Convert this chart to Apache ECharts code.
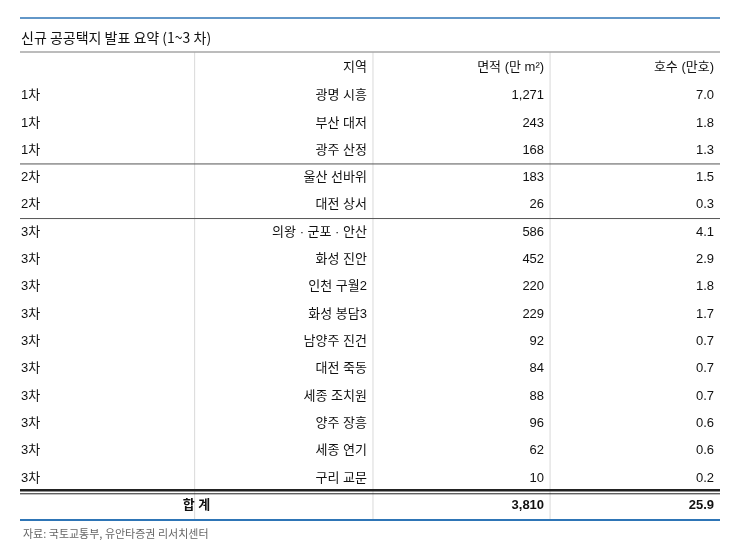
<!DOCTYPE html>
<html><head><meta charset="utf-8">
<script src="https://cdn.jsdelivr.net/npm/echarts@6/dist/echarts.min.js"></script>
<style>html,body{margin:0;padding:0;background:#fff}#c{width:743px;height:557px}</style>
</head><body><div id="c"></div>
<script>
const headers = ['', '지역', '면적 (만 m²)', '호수 (만호)'];
const phases = ['1차','1차','1차','2차','2차','3차','3차','3차','3차','3차','3차','3차','3차','3차','3차'];
const regions = ['광명 시흥','부산 대저','광주 산정','울산 선바위','대전 상서','의왕 · 군포 · 안산','화성 진안','인천 구월2','화성 봉담3','남양주 진건','대전 죽동','세종 조치원','양주 장흥','세종 연기','구리 교문'];
const areas = ['1,271','243','168','183','26','586','452','220','229','92','84','88','96','62','10'];
const units = ['7.0','1.8','1.3','1.5','0.3','4.1','2.9','1.8','1.7','0.7','0.7','0.7','0.6','0.6','0.2'];
const totalLabel = '합 계', totalArea = '3,810', totalUnits = '25.9';
const colEdges = [0, 0.998, 2.017, 3.029, 4];

const chart = echarts.init(document.getElementById('c'));
const N = regions.length;
const cells = [];
headers.forEach((h,c)=>{ if(h) cells.push([c,-0.55,h,'right',false]); });
for(let i=0;i<N;i++){
  cells.push([0,i+0.5,phases[i],'left',false]);
  cells.push([1,i+0.5,regions[i],'right',false]);
  cells.push([2,i+0.5,areas[i],'right',false]);
  cells.push([3,i+0.5,units[i],'right',false]);
}
cells.push([-1,N+0.5,totalLabel,'center',true]);
cells.push([2,N+0.5,totalArea,'right',true]);
cells.push([3,N+0.5,totalUnits,'right',true]);

// horizontal lines: [y, color, width]
const hlines = [[-1.1,'#a6a6a6',1.5],[3,'#555',1],[5,'#555',1],[N-0.05,'#222',2.5],[N+0.08,'#222',1],[N+1.04,'#2e75b6',2]];
const font = '"Liberation Sans","Noto Sans CJK KR",Arial,sans-serif';

chart.setOption({
  animation:false,
  title:[
    {text:'신규 공공택지 발표 요약 (1~3 차)',left:16,top:26,textStyle:{fontSize:14,fontWeight:'normal',color:'#111',fontFamily:'"Noto Sans CJK KR",sans-serif'}},
    {text:'자료: 국토교통부, 유안타증권 리서치센터',left:18,top:523,textStyle:{fontSize:11,fontWeight:'normal',color:'#666',fontFamily:'"Noto Sans CJK KR",sans-serif'}}
  ],
  graphic:[{type:'line',shape:{x1:20,y1:18,x2:720,y2:18},style:{stroke:'#2e75b6',lineWidth:1.5}}],
  grid:{left:20,right:23,top:52,bottom:37},
  xAxis:{type:'value',min:0,max:4,show:false},
  yAxis:{type:'value',min:-1.1,max:N+1.04,inverse:true,show:false},
  series:[
    {type:'custom',silent:true,data:[1,2,3],renderItem:(p,api)=>{
      const x=colEdges[api.value(0)];
      const a=api.coord([x,-1.1]), b=api.coord([x,N+1.04]);
      return {type:'line',shape:{x1:a[0],y1:a[1],x2:b[0],y2:b[1]},style:{stroke:'#d9d9d9',lineWidth:1}};
    },encode:{x:0}},
    {type:'custom',silent:true,data:hlines,renderItem:(p,api)=>{
      const d=hlines[p.dataIndex];
      const a=api.coord([0,d[0]]), b=api.coord([4,d[0]]);
      return {type:'line',shape:{x1:a[0],y1:a[1],x2:b[0],y2:b[1]},style:{stroke:d[1],lineWidth:d[2]}};
    },encode:{y:0}},
    {type:'custom',silent:true,data:cells.map(c=>[c[0],c[1]]),renderItem:(p,api)=>{
      const c=cells[p.dataIndex];
      let x;
      if(c[0]===-1){x=api.coord([(colEdges[0]+colEdges[2])/2,c[1]])[0];}
      else if(c[3]==='left'){x=api.coord([colEdges[c[0]],c[1]])[0]+1;}
      else{x=api.coord([colEdges[c[0]+1],c[1]])[0]-6;}
      const y=api.coord([0,c[1]])[1];
      return {type:'text',x:x,y:y,style:{text:c[2],textAlign:c[3],textVerticalAlign:'middle',fontSize:13,fontWeight:c[4]?'bold':'normal',fill:'#111',fontFamily:font}};
    },encode:{x:0,y:1}}
  ]
});
</script></body></html>
